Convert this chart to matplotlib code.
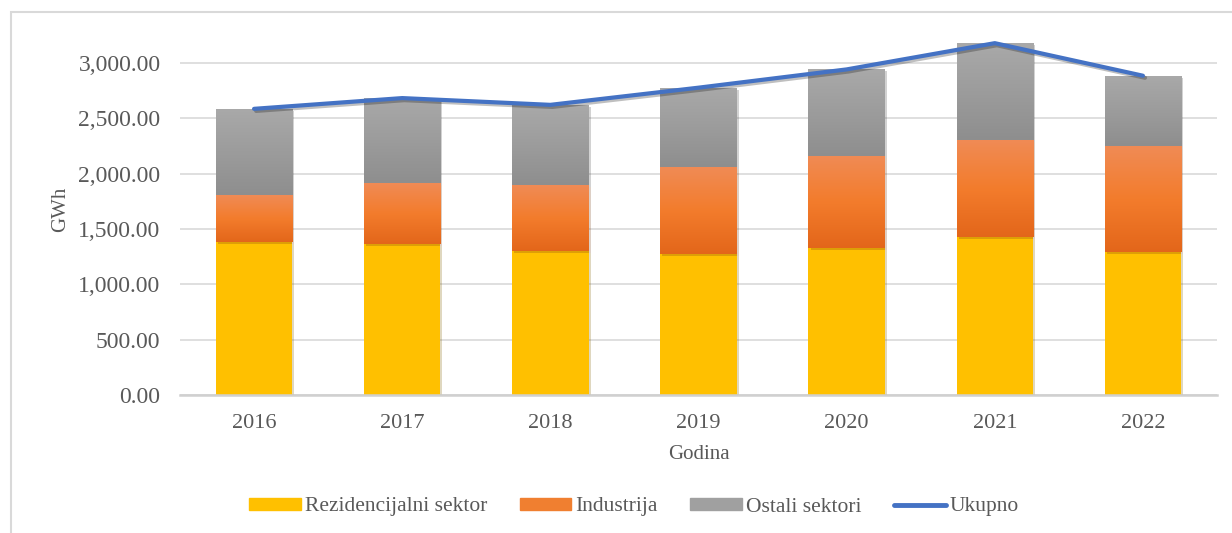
import numpy as np
import matplotlib
matplotlib.use("Agg")
import matplotlib.pyplot as plt
import matplotlib.patheffects as pe
from matplotlib.colors import LinearSegmentedColormap
from matplotlib.patches import Rectangle
from matplotlib.lines import Line2D
from matplotlib.ticker import FuncFormatter

years = ["2016", "2017", "2018", "2019", "2020", "2021", "2022"]
rezidencijalni = [1385, 1364, 1304, 1274, 1325, 1430, 1289]
industrija = [422, 549, 594, 783, 835, 874, 955]
ostali = [777, 768, 722, 718, 780, 873, 639]
ukupno = [2584, 2681, 2620, 2775, 2940, 3177, 2883]

plt.rcParams['font.family'] = ['Liberation Serif', 'DejaVu Serif']
TXT = '#595959'

fig = plt.figure(figsize=(12.32, 5.33), dpi=100)
ax = fig.add_axes([180 / 1232, 1 - 395 / 533, 1037 / 1232, 371 / 533])

# outer chart border
fig.patches.append(Rectangle((11 / 1232, -0.05), 1.1, 1 - 12 / 533 + 0.05,
                             transform=fig.transFigure, fill=False,
                             edgecolor='#D9D9D9', linewidth=1.5, zorder=0))

x = np.arange(len(years))
w = 0.515
shadow = [pe.SimplePatchShadow(offset=(1.5, -1.5), alpha=0.25, rho=0.5), pe.Normal()]

orange_cm = LinearSegmentedColormap.from_list('o', ['#E3661A', '#F37C2C', '#F08B55'])
gray_cm = LinearSegmentedColormap.from_list('g', ['#8E8E8E', '#9C9C9C', '#A9A9A9'])
grad = np.linspace(0, 1, 256).reshape(-1, 1)


# vertical gradient clipped to each bar
def gradient_fill(bars, cmap):
    for b in bars:
        x0, y0 = b.get_x(), b.get_y()
        im = ax.imshow(grad, cmap=cmap, aspect='auto', origin='lower',
                       extent=(x0, x0 + b.get_width(), y0, y0 + b.get_height()),
                       zorder=b.get_zorder() + 0.01, interpolation='bilinear')
        im.set_clip_path(b)


b1 = ax.bar(x, rezidencijalni, w, color='#FFC000', zorder=2, path_effects=shadow)
b2 = ax.bar(x, industrija, w, bottom=rezidencijalni, color='#F07F30', zorder=2,
            path_effects=shadow)
gradient_fill(b2, orange_cm)
bottom3 = np.add(rezidencijalni, industrija)
b3 = ax.bar(x, ostali, w, bottom=bottom3, color='#9E9E9E', zorder=2, path_effects=shadow)
gradient_fill(b3, gray_cm)

ax.plot(x, ukupno, color='#4472C4', linewidth=3, zorder=4,
        solid_capstyle='round', solid_joinstyle='round',
        path_effects=[pe.SimpleLineShadow(offset=(1.5, -1.5), alpha=0.25), pe.Normal()])

ax.set_xlim(-0.5, len(years) - 0.5)
ax.set_ylim(0, 3350)
ax.set_xticks(x)
ax.set_xticklabels(years)
ax.set_yticks(np.arange(0, 3001, 500))
ax.yaxis.set_major_formatter(FuncFormatter(lambda v, p: f"{v:,.2f}"))
ax.grid(axis='y', color='#D9D9D9', linewidth=1.2, zorder=0)
ax.set_axisbelow(True)
for s in ['top', 'right', 'left']:
    ax.spines[s].set_visible(False)
ax.spines['bottom'].set_color('#D0D0D0')
ax.spines['bottom'].set_linewidth(1.8)
ax.tick_params(axis='x', length=0, labelsize=16, colors=TXT, pad=14)
ax.tick_params(axis='y', length=0, labelsize=17, colors=TXT, pad=14)

ax.set_ylabel('GWh', fontsize=15, color=TXT, labelpad=6)
ax.set_xlabel('Godina', fontsize=15, color=TXT, labelpad=8)

handles = [Rectangle((0, 0), 1, 1, color='#FFC000'),
           Rectangle((0, 0), 1, 1, color='#F07F30'),
           Rectangle((0, 0), 1, 1, color='#A0A0A0'),
           Line2D([], [], color='#4472C4', linewidth=3.5, solid_capstyle='round')]
labels = ['Rezidencijalni sektor', 'Industrija', 'Ostali sektori', 'Ukupno']
fig.legend(handles, labels, loc='center', bbox_to_anchor=(634 / 1232, 1 - 507 / 533),
           ncol=4, frameon=False, fontsize=15.5, labelcolor=TXT, handlelength=2.4,
           handleheight=0.45, handletextpad=0.2, columnspacing=1.5)

fig.savefig('out.png', dpi=100)
